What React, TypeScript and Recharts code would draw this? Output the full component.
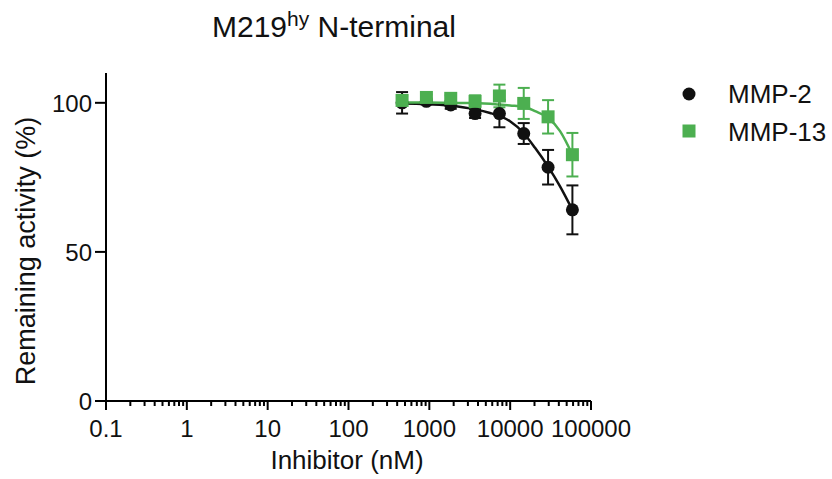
import React from 'react';
import { ComposedChart, Line, Scatter, ErrorBar, XAxis, YAxis } from 'recharts';

const FONT = '"Liberation Sans", Arial, sans-serif';
const BLACK = '#111111';
const GREEN = '#4CAF50';

// inhibitor concentrations (nM), 2-fold dilution series
const conc = [460, 920, 1840, 3680, 7360, 14720, 29440, 58880];

// measured points: mean and SD
const mmp2Mean = [100.0, 100.5, 99.3, 96.4, 96.4, 89.7, 78.4, 64.1];
const mmp2Sd = [3.6, 1.0, 1.3, 1.5, 4.6, 3.5, 5.8, 8.2];
const mmp13Mean = [100.8, 101.8, 101.5, 100.5, 102.3, 99.8, 95.3, 82.6];
const mmp13Sd = [1.5, 1.0, 1.0, 2.0, 3.8, 5.2, 5.6, 7.3];

// fitted curves
const mmp2FitX = [460, 920, 1840, 3680, 5640, 7360, 9960, 14720, 20300, 29440, 41400, 58880];
const mmp2FitY = [99.8, 99.6, 99.0, 97.8, 96.6, 95.6, 93.8, 89.8, 84.9, 78.6, 72.0, 64.1];
const mmp13FitX = [460, 920, 1840, 3680, 7360, 9960, 14720, 20300, 29440, 41400, 58880];
const mmp13FitY = [100.1, 100.1, 100.0, 99.9, 99.4, 99.1, 98.7, 97.2, 95.0, 90.5, 82.6];

const xMajor = [0.1, 1, 10, 100, 1000, 10000, 100000];
const yTicks = [0, 50, 100];

const xTicks: number[] = [];
xMajor.slice(0, -1).forEach((d) => {
  for (let k = 1; k < 10; k++) xTicks.push(d * k);
});
xTicks.push(100000);

const mmp2Pts = conc.map((x, i) => ({ x, y: mmp2Mean[i], err: mmp2Sd[i] }));
const mmp13Pts = conc.map((x, i) => ({ x, y: mmp13Mean[i], err: mmp13Sd[i] }));
const mmp2Fit = mmp2FitX.map((x, i) => ({ x, y: mmp2FitY[i] }));
const mmp13Fit = mmp13FitX.map((x, i) => ({ x, y: mmp13FitY[i] }));

const isMajor = (v: number) => Math.abs(Math.log10(v) - Math.round(Math.log10(v))) < 1e-6;

const XTick = (props: any) => {
  const { x, y, payload } = props;
  const major = isMajor(payload.value);
  return (
    <g>
      <line x1={x} y1={y} x2={x} y2={y + (major ? 9 : 5)} stroke="#000" strokeWidth={2} />
      {major && (
        <text x={x} y={y + 36} textAnchor="middle" fontSize={24} fontFamily={FONT} fill={BLACK}>
          {String(xMajor.find((m) => Math.abs(m - payload.value) < 1e-6))}
        </text>
      )}
    </g>
  );
};

const YTick = (props: any) => {
  const { x, y, payload } = props;
  return (
    <g>
      <line x1={x - 11} y1={y} x2={x} y2={y} stroke="#000" strokeWidth={2} />
      <text x={x - 14} y={y + 9} textAnchor="end" fontSize={24} fontFamily={FONT} fill={BLACK}>
        {payload.value}
      </text>
    </g>
  );
};

const Circle = (p: any) => <circle cx={p.cx} cy={p.cy} r={6.5} fill={BLACK} />;
const Square = (p: any) => <rect x={p.cx - 6.5} y={p.cy - 6.5} width={13} height={13} fill={GREEN} />;

export default function App() {
  return (
    <div style={{ position: 'absolute', left: 0, top: 0, width: 832, height: 479, background: '#fff' }}>
      <ComposedChart width={832} height={479} margin={{ top: 73, right: 241, bottom: 18, left: 26 }}>
        <XAxis
          dataKey="x"
          type="number"
          scale="log"
          domain={[0.1, 100000]}
          allowDataOverflow
          ticks={xTicks}
          interval={0}
          tick={<XTick />}
          tickSize={0}
          tickMargin={0}
          tickLine={false}
          axisLine={{ stroke: '#000', strokeWidth: 2 }}
          height={60}
        />
        <YAxis
          dataKey="y"
          type="number"
          domain={[0, 110]}
          ticks={yTicks}
          interval={0}
          tick={<YTick />}
          tickSize={0}
          tickMargin={0}
          tickLine={false}
          axisLine={{ stroke: '#000', strokeWidth: 2 }}
          width={80}
        />
        <Line data={mmp2Fit} dataKey="y" type="monotone" stroke={BLACK} strokeWidth={2.5} dot={false} isAnimationActive={false} />
        <Line data={mmp13Fit} dataKey="y" type="monotone" stroke={GREEN} strokeWidth={2.5} dot={false} isAnimationActive={false} />
        <Scatter data={mmp2Pts} dataKey="y" shape={<Circle />} isAnimationActive={false}>
          <ErrorBar dataKey="err" direction="y" width={6} stroke={BLACK} strokeWidth={2} isAnimationActive={false} />
        </Scatter>
        <Scatter data={mmp13Pts} dataKey="y" shape={<Square />} isAnimationActive={false}>
          <ErrorBar dataKey="err" direction="y" width={6} stroke={GREEN} strokeWidth={2} isAnimationActive={false} />
        </Scatter>
      </ComposedChart>
      <svg width={832} height={479} style={{ position: 'absolute', left: 0, top: 0, pointerEvents: 'none' }}>
        <text x={212} y={37} fontSize={30} fontFamily={FONT} fill={BLACK}>
          M219
          <tspan fontSize={21} dy={-11}>hy</tspan>
          <tspan fontSize={30} dy={11}> N-terminal</tspan>
        </text>
        <text transform="translate(35,251) rotate(-90)" textAnchor="middle" fontSize={27} fontFamily={FONT} fill={BLACK}>
          Remaining activity (%)
        </text>
        <text x={347} y={469} textAnchor="middle" fontSize={26} fontFamily={FONT} fill={BLACK}>
          Inhibitor (nM)
        </text>
        <circle cx={689} cy={94} r={6.5} fill={BLACK} />
        <text x={728} y={103} fontSize={26} fontFamily={FONT} fill={BLACK}>MMP-2</text>
        <rect x={682.5} y={124.5} width={13} height={13} fill={GREEN} />
        <text x={728} y={140.5} fontSize={26} fontFamily={FONT} fill={BLACK}>MMP-13</text>
      </svg>
    </div>
  );
}
